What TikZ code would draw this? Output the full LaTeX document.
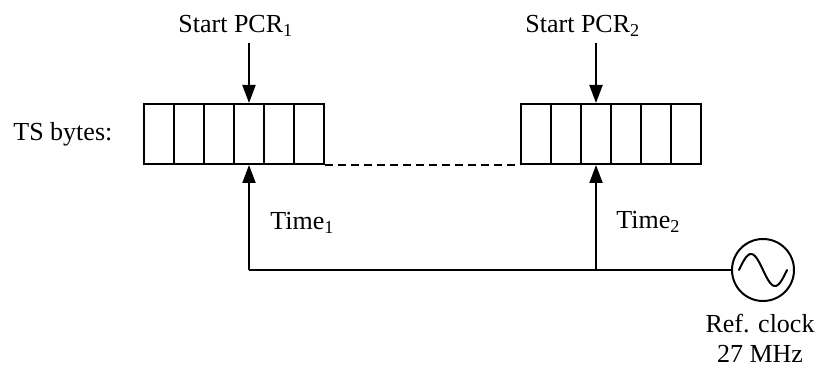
\documentclass[tikz,border=0pt]{standalone}
\usepackage{fontspec}
\setmainfont{Liberation Serif}
\usetikzlibrary{arrows.meta}
\begin{document}
\begin{tikzpicture}[x=0.5pt,y=-0.5pt,
  lbl/.style={font=\fontsize{13}{15}\selectfont, inner sep=0pt},
  cell/.style={draw, line width=1pt, minimum width=15pt, minimum height=30pt, inner sep=0pt},
  conn/.style={line width=1pt},
  arr/.style={conn, -{Triangle[length=9pt,width=6.5pt]}},
  osc/.style={draw, circle, line width=1pt, minimum size=31pt, inner sep=0pt}]
\useasboundingbox (0,0) rectangle (824,367);
% byte cells, group 1
\foreach \i/\x in {1/159,2/189,3/219,4/249,5/279,6/309}
  \node[cell] (a\i) at (\x,134) {};
% byte cells, group 2
\foreach \i/\x in {1/536,2/566,3/596,4/626,5/656,6/686}
  \node[cell] (b\i) at (\x,134) {};
% dashed gap
\draw[conn, dashed, dash pattern=on 4pt off 2.5pt] (a6.south east) -- (b1.south west);
% labels
\node[lbl, anchor=base west] (ts) at (13,141) {TS bytes:};
\node[lbl, anchor=base west] (s1) at (178,33) {Start PCR\textsubscript{1}};
\node[lbl, anchor=base west] (s2) at (525,33) {Start PCR\textsubscript{2}};
\node[lbl, anchor=base west] (t1) at (270,230) {Time\textsubscript{1}};
\node[lbl, anchor=base west] (t2) at (616,229) {Time\textsubscript{2}};
\node[lbl, anchor=base] (rc) at (760,333) {Ref. clock};
\node[lbl, anchor=base] (mhz) at (760,363) {27 MHz};
% start arrows
\coordinate (p1) at (249,43);
\coordinate (p2) at (596,43);
\draw[arr] (p1) -- (a4.north);
\draw[arr] (p2) -- (b3.north);
% oscillator
\node[osc] (clk) at (763,270) {};
\begin{scope}[shift={(clk.center)}]
  \draw[conn, line cap=round] plot[domain=-180:180, samples=50, smooth] ({\x/180*24},{16*sin(\x)});
\end{scope}
% clock lines
\coordinate (j1) at (a4 |- clk);
\coordinate (j2) at (b3 |- clk);
\draw[conn] (clk.west) -- (j1);
\draw[arr] (j1) -- (a4.south);
\draw[arr] (j2) -- (b3.south);
\end{tikzpicture}
\end{document}
